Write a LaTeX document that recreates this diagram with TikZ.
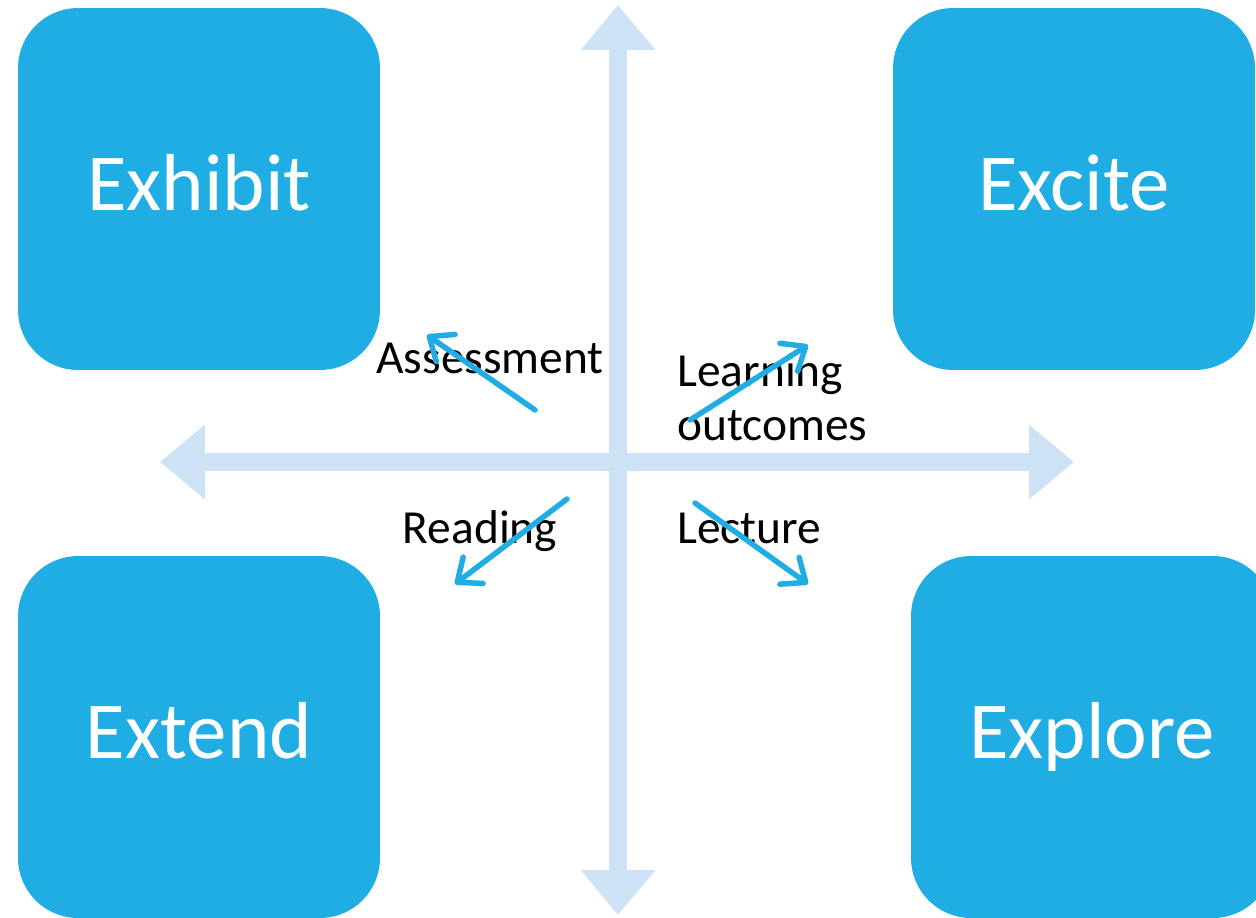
\documentclass[tikz,border=0pt]{standalone}
\usepackage{fontspec}
\setmainfont{Carlito}
\usepackage{tikz}
\usetikzlibrary{arrows.meta, positioning}
\definecolor{boxblue}{RGB}{31,173,228}
\definecolor{axisblue}{RGB}{205,226,244}

\begin{document}
\begin{tikzpicture}[
    x=0.02cm, y=-0.02cm,
    box/.style={rectangle, rounded corners=1.2cm, fill=boxblue, text=white, minimum width=7.24cm, minimum height=7.24cm, inner sep=0pt, text height=1.1cm, text depth=0.26cm, font=\fontsize{46}{55}\selectfont},
    axis/.style={axisblue, line width=0.36cm, {Triangle[width=1.44cm, length=0.9cm]}-{Triangle[width=1.44cm, length=0.9cm]}},
    label/.style={text=black, inner sep=0pt, font=\fontsize{27}{30.7}\selectfont},
    pointer/.style={boxblue, line width=0.11cm, line cap=round, -{Straight Barb[round, length=0.4cm, width=0.66cm]}}
]
    \useasboundingbox (0,0) rectangle (1256,917);

    % Four corner boxes
    \node[box] (exhibit) at (199,189) {Exhibit};
    \node[box] (excite) at (1074,189) {Excite};
    \node[box] (extend) at (199,737) {Extend};
    \node[box] (explore) at (1092,737) {Explore};

    % Axes
    \coordinate (ax-top) at (618,5);
    \coordinate (ax-bottom) at (618,915);
    \coordinate (ax-left) at (160,462);
    \coordinate (ax-right) at (1074,462);
    \draw[axis] (ax-bottom) -- (ax-top);
    \draw[axis] (ax-left) -- (ax-right);

    % Labels
    \node[label, anchor=base] (assess) at (490,373) {Assessment};
    \node[label, anchor=base west, align=left] (learn) at (677,440) {Learning\\outcomes};
    \node[label, anchor=base] (read) at (480,543) {Reading};
    \node[label, anchor=base west] (lect) at (677,543) {Lecture};

    % Pointers
    \coordinate (as-from) at (535,410);
    \coordinate (as-to) at (427,335);
    \coordinate (le-from) at (690,420);
    \coordinate (le-to) at (808,345);
    \coordinate (re-from) at (567,499);
    \coordinate (re-to) at (455,584);
    \coordinate (lc-from) at (695,503);
    \coordinate (lc-to) at (808,584);
    \draw[pointer] (as-from) -- (as-to);
    \draw[pointer] (le-from) -- (le-to);
    \draw[pointer] (re-from) -- (re-to);
    \draw[pointer] (lc-from) -- (lc-to);
\end{tikzpicture}
\end{document}
